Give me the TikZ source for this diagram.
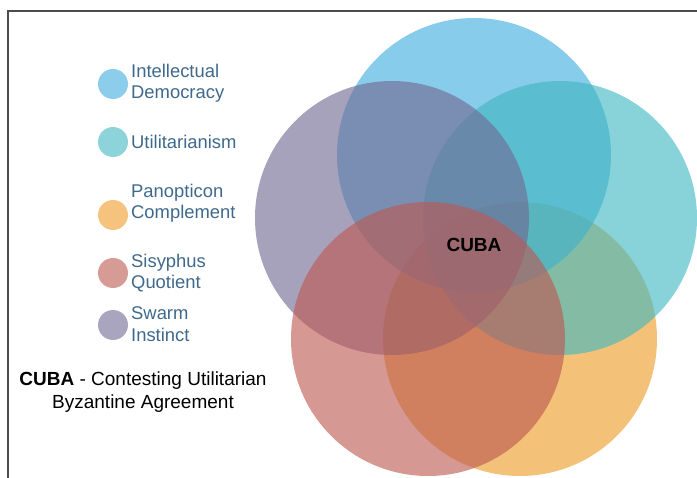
\documentclass[tikz,border=0pt]{standalone}
\usepackage{fontspec}
\setmainfont{Liberation Sans}
\usepackage{xcolor}
\definecolor{demblue}{RGB}{63,172,222}
\definecolor{utilteal}{RGB}{63,183,193}
\definecolor{panorange}{RGB}{238,155,38}
\definecolor{sisred}{RGB}{188,88,80}
\definecolor{swarmpurple}{RGB}{113,105,147}
\definecolor{labtext}{RGB}{62,105,140}
\tikzset{
  setdisc/.style={fill=#1,fill opacity=0.62},
  legdot/.style={circle,fill=#1,fill opacity=0.6,minimum size=30pt,inner sep=0pt},
  leglab/.style={anchor=west,align=left,text=labtext,inner sep=0pt,font=\fontsize{18.4}{21.5}\selectfont}
}

\begin{document}
\begin{tikzpicture}[x=1pt,y=-1pt]
  \useasboundingbox (0,0) rectangle (697,478);
  \draw[line width=1.2pt,black!70] (8,478)--(8,11)--(697,11);
  % set centres
  \coordinate (S) at (392,218); \coordinate (D) at (474,155); \coordinate (U) at (560,218);
  \coordinate (Q) at (428,339); \coordinate (P) at (520,339);
  \fill[setdisc=panorange] (P) circle (137pt);
  \fill[setdisc=demblue] (D) circle (137pt);
  \fill[setdisc=utilteal] (U) circle (137pt);
  \fill[setdisc=swarmpurple] (S) circle (137pt);
  \fill[setdisc=sisred] (Q) circle (137pt);
  \node[font=\fontsize{19}{21}\bfseries] (cuba) at (474,245) {CUBA};
  % legend
  \node[legdot=demblue] (d1) at (113,84) {}; \node[leglab] (l1) at (131,83) {Intellectual\\Democracy};
  \node[legdot=utilteal] (d2) at (113,142) {}; \node[leglab] (l2) at (131,142) {Utilitarianism};
  \node[legdot=panorange] (d3) at (113,215) {}; \node[leglab] (l3) at (131,203) {Panopticon\\Complement};
  \node[legdot=sisred] (d4) at (113,273) {}; \node[leglab] (l4) at (131,273) {Sisyphus\\Quotient};
  \node[legdot=swarmpurple] (d5) at (113,325) {}; \node[leglab] (l5) at (131,324) {Swarm\\Instinct};
  \node[align=center,font=\fontsize{19}{23}\selectfont] (key) at (143,392) {\textbf{CUBA} - Contesting Utilitarian\\Byzantine Agreement};
\end{tikzpicture}
\end{document}
